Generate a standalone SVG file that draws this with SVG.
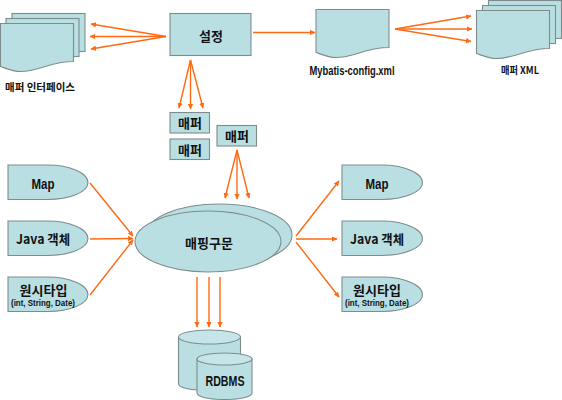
<svg xmlns="http://www.w3.org/2000/svg" width="562" height="400" viewBox="0 0 562 400">
<defs>
<marker id="a" markerUnits="userSpaceOnUse" markerWidth="6" markerHeight="6" refX="5" refY="3" orient="auto"><path d="M0 0.4L5.5 3L0 5.6z" fill="#ff6a13"/></marker>
<path id="doc" d="M0 0H73V38C50 38 38 48 20 48C12 48 6 45 0 43z"/>
</defs>
<style>
.s{fill:#b9dfe3;stroke:#7f8c8e;stroke-width:1.1}
.t{fill:#c6e5e8;stroke:#7f8c8e;stroke-width:1.1}
text{font-family:"Noto Sans CJK KR","Liberation Sans",sans-serif;font-weight:700;fill:#111;text-anchor:middle}
.m{font-size:13px}.l{font-size:10.5px}.x{font-size:8.5px;font-family:"Liberation Sans",sans-serif}
.la{font-family:"Liberation Sans",sans-serif}.b{font-size:14.500px}
#connectors line{stroke:#ff6a13;stroke-width:1.4;marker-end:url(#a)}
</style>
<g id="connectors">
<line x1="166" y1="36.500" x2="91" y2="24"/><line x1="166" y1="36.500" x2="90" y2="36.500"/><line x1="166" y1="36.500" x2="91" y2="49"/>
<line x1="253" y1="32.500" x2="315" y2="32.500"/>
<line x1="395" y1="29" x2="471" y2="16"/><line x1="395" y1="29" x2="472" y2="29"/><line x1="395" y1="29" x2="471" y2="41.500"/>
<line x1="190.500" y1="60" x2="179" y2="108"/><line x1="190.500" y1="60" x2="190.500" y2="109"/><line x1="190.500" y1="60" x2="203" y2="108"/>
<line x1="237" y1="150" x2="225" y2="198"/><line x1="237" y1="150" x2="237" y2="199"/><line x1="237" y1="150" x2="249" y2="198"/>
<line x1="90" y1="183" x2="133" y2="236"/><line x1="90" y1="239" x2="133" y2="238.500"/><line x1="90" y1="295" x2="133" y2="240"/>
<line x1="296" y1="236" x2="339" y2="181"/><line x1="296" y1="239" x2="337" y2="239"/><line x1="296" y1="242" x2="339" y2="297"/>
<line x1="197" y1="277" x2="197" y2="327"/><line x1="209" y1="277" x2="209" y2="327"/><line x1="220" y1="277" x2="220" y2="327"/>
</g>
<g id="mapper-interface">
<rect class="s" x="12" y="13.500" width="73" height="38"/><rect class="s" x="6" y="18.500" width="73" height="38"/>
<use href="#doc" class="s" x="0.500" y="23.500"/>
<text class="l" x="40" y="91">매퍼 인터페이스</text>
</g>
<g id="config"><rect class="s" x="170" y="13.500" width="81" height="42"/><text class="m" x="211" y="41">설정</text></g>
<g id="mybatis-config">
<use href="#doc" class="s" x="316" y="9.500"/>
<text class="la" font-size="12" x="352" y="75" textLength="85" lengthAdjust="spacingAndGlyphs">Mybatis-config.xml</text>
</g>
<g id="mapper-xml">
<rect class="s" x="488.500" y="0.500" width="73" height="38"/><rect class="s" x="482.500" y="5.500" width="73" height="38"/>
<use href="#doc" class="s" x="476.500" y="10.500"/>
<text class="l" x="520" y="74" textLength="38" lengthAdjust="spacingAndGlyphs">매퍼 XML</text>
</g>
<g id="mapper1"><rect class="s" x="170" y="112.500" width="39.500" height="20.500"/><text class="m" x="190" y="128">매퍼</text></g>
<g id="mapper2"><rect class="s" x="170" y="139" width="39.500" height="20.500"/><text class="m" x="190" y="155">매퍼</text></g>
<g id="mapper3"><rect class="s" x="217" y="125.500" width="39.500" height="20.500"/><text class="m" x="237" y="141">매퍼</text></g>
<g id="map-left"><path class="s" d="M8 165H48C70 165 88 173 88 182.500C88 192 70 199.500 48 199.500H8z"/><text class="b la" x="43" y="188.500" textLength="23" lengthAdjust="spacingAndGlyphs">Map</text></g>
<g id="java-left"><path class="s" d="M8 221H48C70 221 88 229 88 238.500C88 248 70 255.500 48 255.500H8z"/><text class="m" x="43" y="244" textLength="54" lengthAdjust="spacingAndGlyphs">Java 객체</text></g>
<g id="prim-left"><path class="s" d="M8 277H48C70 277 88 285 88 294.500C88 304 70 311.500 48 311.500H8z"/><text class="m" x="43.500" y="295">원시타입</text><text class="x" x="43" y="306" textLength="64" lengthAdjust="spacingAndGlyphs">(int, String, Date)</text></g>
<g id="map-right"><path class="s" d="M342 165H382C404 165 422.500 173 422.500 182.500C422.500 192 404 199.500 382 199.500H342z"/><text class="b la" x="377" y="188.500" textLength="23" lengthAdjust="spacingAndGlyphs">Map</text></g>
<g id="java-right"><path class="s" d="M342 221H382C404 221 422.500 229 422.500 238.500C422.500 248 404 255.500 382 255.500H342z"/><text class="m" x="377" y="244" textLength="54" lengthAdjust="spacingAndGlyphs">Java 객체</text></g>
<g id="prim-right"><path class="s" d="M342 277H382C404 277 422.500 285 422.500 294.500C422.500 304 404 311.500 382 311.500H342z"/><text class="m" x="377" y="295">원시타입</text><text class="x" x="377" y="306" textLength="64" lengthAdjust="spacingAndGlyphs">(int, String, Date)</text></g>
<g id="mapped-statement">
<ellipse class="s" cx="219" cy="235" rx="73" ry="31"/>
<ellipse class="s" cx="208" cy="241.500" rx="73" ry="30.500"/>
<text class="m" x="209" y="248">매핑구문</text>
</g>
<g id="rdbms">
<path class="s" d="M178.500 337V384C178.500 388 192 390.500 209.500 390.500S240.500 388 240.500 384V337z"/>
<ellipse class="t" cx="209.500" cy="337" rx="31" ry="7"/>
<path class="s" d="M197 359V393C197 397 209 399.500 224.500 399.500S252 397 252 393V359z"/>
<ellipse class="t" cx="224.500" cy="359" rx="27.500" ry="6"/>
<text class="b la" x="225" y="385.500" textLength="39" lengthAdjust="spacingAndGlyphs">RDBMS</text>
</g>
</svg>
